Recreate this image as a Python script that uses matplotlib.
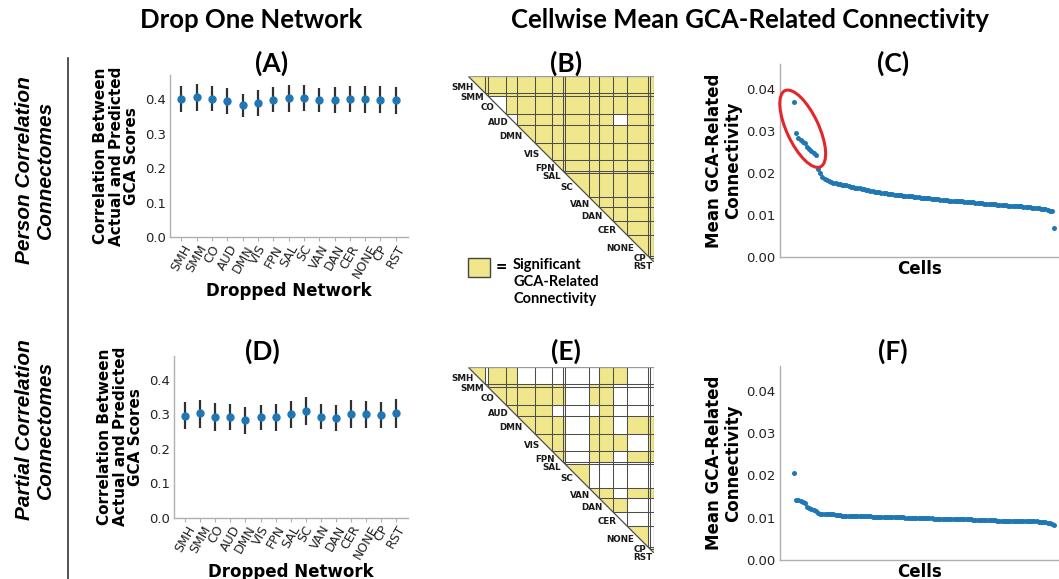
import matplotlib
matplotlib.use("Agg")
import matplotlib.pyplot as plt
from matplotlib.patches import Rectangle, Polygon, Ellipse
from matplotlib.lines import Line2D
from matplotlib.transforms import IdentityTransform
import numpy as np

NETWORKS = ["SMH", "SMM", "CO", "AUD", "DMN", "VIS", "FPN", "SAL",
            "SC", "VAN", "DAN", "CER", "NONE", "CP", "RST"]
NET_SIZES = [38, 8, 40, 24, 41, 39, 24, 4, 54, 23, 32, 32, 47, 5, 8]

# (A) pearson connectomes, drop one network
PEARSON_R = [0.400, 0.405, 0.400, 0.393, 0.381, 0.387, 0.397, 0.402,
             0.404, 0.396, 0.396, 0.400, 0.399, 0.397, 0.396]
PEARSON_LO = [0.363, 0.366, 0.366, 0.357, 0.347, 0.351, 0.362, 0.363,
              0.366, 0.362, 0.360, 0.362, 0.360, 0.359, 0.357]
PEARSON_HI = [0.438, 0.443, 0.437, 0.431, 0.414, 0.426, 0.435, 0.441,
              0.441, 0.431, 0.434, 0.437, 0.437, 0.437, 0.435]

# (D) partial correlation connectomes
PARTIAL_R = [0.296, 0.303, 0.293, 0.292, 0.283, 0.292, 0.292, 0.301,
             0.310, 0.293, 0.289, 0.302, 0.302, 0.299, 0.304]
PARTIAL_LO = [0.257, 0.262, 0.253, 0.255, 0.243, 0.255, 0.253, 0.260,
              0.269, 0.257, 0.253, 0.262, 0.262, 0.260, 0.262]
PARTIAL_HI = [0.337, 0.342, 0.334, 0.330, 0.323, 0.327, 0.329, 0.339,
              0.350, 0.330, 0.328, 0.341, 0.340, 0.337, 0.344]

# (B) significant blocks, pearson: everything except these
PEARSON_NONSIG = [("CO", "CO"), ("AUD", "AUD"), ("AUD", "CER")]

# (E) significant blocks, partial (row network vs column network, upper part only)
PARTIAL_SIG = [
    "101100000011000",
    ".11111110110000",
    "..1111110110000",
    "...111000010000",
    "....11110110111",
    ".....1110111011",
    "......110110111",
    ".......10000000",
    "........1000000",
    ".........110111",
    "..........11000",
    "...........0000",
    "............100",
    ".............11",
    "..............1",
]

# (C) / (F) cellwise mean GCA-related connectivity, sorted
PEARSON_CELLS = [
    0.0369, 0.0295, 0.0285, 0.0278, 0.0274, 0.0271, 0.0262, 0.0257, 0.0253, 0.0249,
    0.0243, 0.0211, 0.0200, 0.0192, 0.0186, 0.0184, 0.0182, 0.0180, 0.0178, 0.0177,
    0.0175, 0.0174, 0.0173, 0.0173, 0.0172, 0.0170, 0.0168, 0.0167, 0.0166, 0.0165,
    0.0164, 0.0163, 0.0162, 0.0160, 0.0159, 0.0158, 0.0157, 0.0156, 0.0155, 0.0155,
    0.0154, 0.0153, 0.0152, 0.0151, 0.0150, 0.0150, 0.0149, 0.0149, 0.0148, 0.0148,
    0.0147, 0.0147, 0.0146, 0.0145, 0.0145, 0.0144, 0.0143, 0.0143, 0.0142, 0.0142,
    0.0141, 0.0140, 0.0140, 0.0139, 0.0139, 0.0138, 0.0138, 0.0137, 0.0137, 0.0136,
    0.0136, 0.0135, 0.0135, 0.0134, 0.0134, 0.0133, 0.0133, 0.0133, 0.0132, 0.0132,
    0.0131, 0.0131, 0.0131, 0.0130, 0.0130, 0.0129, 0.0129, 0.0128, 0.0128, 0.0127,
    0.0127, 0.0126, 0.0126, 0.0125, 0.0125, 0.0124, 0.0124, 0.0124, 0.0123, 0.0123,
    0.0122, 0.0122, 0.0121, 0.0121, 0.0121, 0.0120, 0.0120, 0.0119, 0.0119, 0.0118,
    0.0118, 0.0117, 0.0117, 0.0116, 0.0115, 0.0114, 0.0112, 0.0111, 0.0110, 0.0070,
]
PARTIAL_CELLS = [
    0.0206, 0.0143, 0.0141, 0.0139, 0.0138, 0.0136, 0.0125, 0.0122, 0.0120, 0.0118,
    0.0115, 0.0112, 0.0110, 0.0109, 0.0109, 0.0108, 0.0108, 0.0108, 0.0108, 0.0107,
    0.0107, 0.0106, 0.0105, 0.0105, 0.0104, 0.0104, 0.0104, 0.0104, 0.0104, 0.0104,
    0.0104, 0.0103, 0.0103, 0.0103, 0.0103, 0.0103, 0.0102, 0.0102, 0.0102, 0.0102,
    0.0102, 0.0102, 0.0102, 0.0101, 0.0101, 0.0101, 0.0101, 0.0101, 0.0101, 0.0101,
    0.0101, 0.0100, 0.0100, 0.0100, 0.0100, 0.0100, 0.0100, 0.0099, 0.0099, 0.0099,
    0.0099, 0.0099, 0.0099, 0.0099, 0.0098, 0.0098, 0.0098, 0.0098, 0.0098, 0.0098,
    0.0098, 0.0097, 0.0097, 0.0097, 0.0097, 0.0097, 0.0096, 0.0096, 0.0096, 0.0096,
    0.0096, 0.0096, 0.0095, 0.0095, 0.0095, 0.0095, 0.0095, 0.0094, 0.0094, 0.0094,
    0.0094, 0.0094, 0.0094, 0.0093, 0.0093, 0.0093, 0.0093, 0.0093, 0.0093, 0.0093,
    0.0093, 0.0092, 0.0092, 0.0092, 0.0092, 0.0092, 0.0092, 0.0092, 0.0092, 0.0092,
    0.0092, 0.0092, 0.0091, 0.0091, 0.0091, 0.0090, 0.0088, 0.0087, 0.0085, 0.0083,
]

YELLOW = "#f0e68c"
BLUE = "#1f77b4"
GRID = "#4d4d4d"
SPINE = "#b0b0b0"
TXT = "#222222"
W, H = 1059, 579

# small nudges for the labels of the thin networks (in matrix units)
LABEL_NUDGE = {"SAL": (0, 5), "CP": (0, -3), "RST": (9, 9)}

fig = plt.figure(figsize=(W / 100, H / 100), dpi=100)


def px_axes(left, top, right, bottom):
    return fig.add_axes([left / W, 1 - bottom / H, (right - left) / W, (bottom - top) / H])


def ftext(x, y, s, **kw):
    fig.text(x / W, 1 - y / H, s, **kw)


def style_axes(ax):
    for s in ("top", "right"):
        ax.spines[s].set_visible(False)
    for s in ("left", "bottom"):
        ax.spines[s].set_color(SPINE)
        ax.spines[s].set_linewidth(1.0)
    ax.tick_params(axis="y", length=0, pad=3, labelsize=9.5, labelcolor=TXT)


def drop_panel(ax, r, lo, hi):
    x = np.arange(len(NETWORKS))
    ax.vlines(x, lo, hi, color="#303030", lw=1.6, zorder=2)
    ax.plot(x, r, "o", color=BLUE, ms=5, zorder=3)
    ax.set_xlim(-0.75, 14.8)
    ax.set_ylim(0, 0.47)
    ax.set_yticks([0.0, 0.1, 0.2, 0.3, 0.4])
    ax.set_yticklabels(["0.0", "0.1", "0.2", "0.3", "0.4"])
    ax.set_xticks(x)
    ax.set_xticklabels(NETWORKS, rotation=60, fontsize=9, color=TXT)
    style_axes(ax)
    ax.tick_params(axis="x", length=3, color=SPINE, pad=1)
    ax.set_ylabel("Correlation Between\nActual and Predicted\nGCA Scores",
                  fontsize=11, fontweight="bold", labelpad=4, linespacing=1.05)
    ax.set_xlabel("Dropped Network", fontsize=12, fontweight="bold", labelpad=1)


def cell_panel(ax, vals):
    x = np.arange(len(vals))
    ax.plot(x, vals, "o", color=BLUE, ms=3.6, mew=0)
    ax.set_xlim(-6.4, 120.8)
    ax.set_ylim(0, 0.046)
    ax.set_yticks([0.0, 0.01, 0.02, 0.03, 0.04])
    ax.set_yticklabels(["0.00", "0.01", "0.02", "0.03", "0.04"])
    ax.set_xticks([])
    style_axes(ax)
    ax.set_ylabel("Mean GCA-Related\nConnectivity", fontsize=12, fontweight="bold",
                  labelpad=3, linespacing=1.1)
    ax.set_xlabel("Cells", fontsize=12, fontweight="bold", labelpad=2)


def matrix_panel(ax, sig):
    edges = np.concatenate([[0], np.cumsum(NET_SIZES)])
    n = edges[-1]
    ax.set_xlim(0, n)
    ax.set_ylim(n, 0)
    ax.axis("off")
    tri = Polygon([(0, 0), (n, 0), (n, n)], closed=True, fc="none", ec="none")
    ax.add_patch(tri)
    for i in range(len(NETWORKS)):
        for j in range(i, len(NETWORKS)):
            rect = Rectangle((edges[j], edges[i]), NET_SIZES[j], NET_SIZES[i],
                             fc=YELLOW if sig[i][j] else "white", ec="none")
            ax.add_patch(rect)
            rect.set_clip_path(tri)
    for b in edges:
        ax.plot([b, b], [0, b], color=GRID, lw=0.75, solid_capstyle="butt")
        ax.plot([b, n], [b, b], color=GRID, lw=0.75, solid_capstyle="butt")
    ax.plot([0, n], [0, n], color=GRID, lw=0.9)
    ax.plot([0, n, n], [0, 0, n], color="#999999", lw=0.9)
    for k, name in enumerate(NETWORKS):
        c = (edges[k] + edges[k + 1]) / 2
        dx, dy = LABEL_NUDGE.get(name, (0, 0))
        ax.text(c - 7 + dx, c + 6 + dy, name, ha="right", va="center", fontsize=6.3,
                fontweight="bold", color="#1a1a1a", clip_on=False)


# significance tables
pearson_sig = [[True] * len(NETWORKS) for _ in NETWORKS]
for a, b in PEARSON_NONSIG:
    pearson_sig[NETWORKS.index(a)][NETWORKS.index(b)] = False
partial_sig = [[ch == "1" for ch in row] for row in PARTIAL_SIG]

axA = px_axes(170, 74.7, 408, 237.3)
drop_panel(axA, PEARSON_R, PEARSON_LO, PEARSON_HI)
axD = px_axes(174, 355.9, 408, 517.7)
drop_panel(axD, PARTIAL_R, PARTIAL_LO, PARTIAL_HI)

axB = px_axes(468, 76, 653.7, 261.7)
matrix_panel(axB, pearson_sig)
axE = px_axes(468, 367, 653.7, 552.7)
matrix_panel(axE, partial_sig)

axC = px_axes(780, 64, 1058, 257.3)
cell_panel(axC, PEARSON_CELLS)
axF = px_axes(780, 365.6, 1058, 560)
cell_panel(axF, PARTIAL_CELLS)

# red ellipse around the top cells of (C)
top = PEARSON_CELLS[:11]
cx, cy = axC.transData.transform((4.0, (max(top) + min(top)) / 2))
fig.add_artist(Ellipse((cx, cy), 84, 32, angle=-65, fill=False, ec="#e3262b",
                       lw=2.2, transform=IdentityTransform()))

# legend of the matrices
fig.add_artist(Rectangle((468 / W, 1 - 277 / H), 22 / W, 19 / H, transform=fig.transFigure,
                         fc=YELLOW, ec="#444444", lw=1))
ftext(501, 268, "=", ha="center", va="center", fontsize=14, fontweight="bold", family="Lato")
ftext(513, 282, "Significant\nGCA-Related\nConnectivity", ha="left", va="center",
      fontsize=10.5, fontweight="bold", family="Lato", linespacing=1.3)

# headers and panel letters
ftext(251, 20, "Drop One Network", ha="center", va="center", fontsize=18.5,
      fontweight="bold", family="Lato")
ftext(750, 20, "Cellwise Mean GCA-Related Connectivity", ha="center", va="center",
      fontsize=18.5, fontweight="bold", family="Lato")
for letter, x, y in [("(A)", 272, 63), ("(B)", 566, 63), ("(C)", 893, 63),
                     ("(D)", 262, 351), ("(E)", 566, 351), ("(F)", 893, 351)]:
    ftext(x, y, letter, ha="center", va="center", fontsize=19, fontweight="bold",
          family="Lato")

# row labels
row_font = dict(rotation=90, ha="center", va="center", fontsize=15, fontweight="bold",
                fontstyle="italic", family=["Liberation Sans Narrow", "Liberation Sans"],
                multialignment="center", linespacing=1.15)
ftext(35, 170, "Person Correlation\nConnectomes", **row_font)
ftext(35, 430, "Partial Correlation\nConnectomes", **row_font)
fig.add_artist(Line2D([68 / W, 68 / W], [1 - 58 / H, 0], color="#333333", lw=1.2))

fig.savefig("out.png", dpi=100)
